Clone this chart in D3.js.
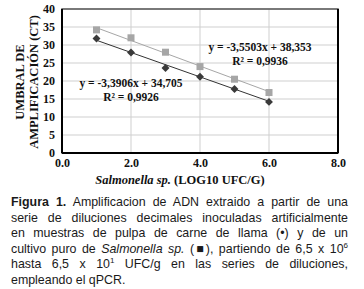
<!DOCTYPE html>
<html>
<head>
<meta charset="utf-8">
<script src="https://cdn.jsdelivr.net/npm/d3@7"></script>
<style>
  body { margin: 0; background: #fff; overflow: hidden; }
  #chart { position: absolute; left: 0; top: 0; }
  #caption {
    position: absolute; left: 11px; top: 195px; width: 337px;
    font-family: "Liberation Sans", Arial, sans-serif; font-size: 12.4px;
    color: #1a1a1a; line-height: 15.6px;
  }
  #caption div { text-align: justify; text-align-last: justify; white-space: nowrap; }
  #caption div.last { text-align-last: left; }
  #caption sup { font-size: 8px; line-height: 0; vertical-align: 5px; }
</style>
</head>
<body>
<svg id="chart" width="364" height="196"></svg>
<div id="caption"></div>
<script>
// data
const dilutions = [1, 2, 3, 4, 5, 6];
const llamaCt = [31.8, 27.9, 23.6, 21.2, 17.8, 14.2];
const cultureCt = [34.2, 32.0, 28.0, 24.0, 20.5, 16.8];
const llamaFit = { m: -3.3906, b: 34.705, label: "y = -3,3906x + 34,705", r2: "R² = 0,9926" };
const cultureFit = { m: -3.5503, b: 38.353, label: "y = -3,5503x + 38,353", r2: "R² = 0,9936" };
const xTicks = [0, 2, 4, 6, 8];
const yTicks = [0, 5, 10, 15, 20, 25, 30, 35, 40];

const margin = { top: 9, right: 26, bottom: 43, left: 62 };
const svg = d3.select("#chart");
const width = 364 - margin.left - margin.right;
const height = 196 - margin.top - margin.bottom;

const x = d3.scaleLinear().domain([0, 8]).range([0, width]);
const y = d3.scaleLinear().domain([0, 40]).range([height, 0]);

const g = svg.append("g").attr("transform", `translate(${margin.left},${margin.top})`);

// grid
g.selectAll(".hgrid").data(yTicks).enter().append("line")
  .attr("x1", 0).attr("x2", width)
  .attr("y1", d => y(d)).attr("y2", d => y(d))
  .attr("stroke", "#cfcfcf").attr("stroke-width", 1);
g.selectAll(".vgrid").data(xTicks).enter().append("line")
  .attr("x1", d => x(d)).attr("x2", d => x(d))
  .attr("y1", 0).attr("y2", height)
  .attr("stroke", "#cfcfcf").attr("stroke-width", 1);

// plot border
g.append("rect").attr("x", 0).attr("y", 0).attr("width", width).attr("height", height)
  .attr("fill", "none").attr("stroke", "#555").attr("stroke-width", 1.5);
g.append("line").attr("x1", 0).attr("x2", 0).attr("y1", 0).attr("y2", height)
  .attr("stroke", "#000").attr("stroke-width", 2);
g.append("line").attr("x1", 0).attr("x2", width).attr("y1", height).attr("y2", height)
  .attr("stroke", "#000").attr("stroke-width", 2);
g.append("line").attr("x1", width).attr("x2", width).attr("y1", 0).attr("y2", height)
  .attr("stroke", "#000").attr("stroke-width", 2);

// axes
const yAxis = g.append("g").call(d3.axisLeft(y).tickValues(yTicks).tickSize(0).tickPadding(7));
const xAxis = g.append("g").attr("transform", `translate(0,${height})`)
  .call(d3.axisBottom(x).tickValues(xTicks).tickSize(0).tickPadding(5).tickFormat(d3.format(".1f")));
[yAxis, xAxis].forEach(a => {
  a.select(".domain").remove();
  a.selectAll("text").attr("font-family", "'Liberation Serif', 'Times New Roman', serif")
    .attr("font-weight", "bold").attr("font-size", 12).attr("fill", "#111");
});

// trendlines
const line = d3.line().x(d => x(d[0])).y(d => y(d[1]));
[[cultureFit, "#a6a6a6"], [llamaFit, "#333"]].forEach(([f, c]) => {
  g.append("path")
    .datum([[dilutions[0], f.m * dilutions[0] + f.b], [dilutions[5], f.m * dilutions[5] + f.b]])
    .attr("d", line).attr("stroke", c).attr("stroke-width", 1).attr("fill", "none");
});

// markers
g.selectAll(".sq").data(dilutions).enter().append("rect")
  .attr("x", (d) => x(d) - 3.5).attr("y", (d, i) => y(cultureCt[i]) - 3.5)
  .attr("width", 7).attr("height", 7).attr("fill", "#a6a6a6");
g.selectAll(".dm").data(dilutions).enter().append("path")
  .attr("d", d3.symbol(d3.symbolDiamond2, 40))
  .attr("transform", (d, i) => `translate(${x(d)},${y(llamaCt[i])})`)
  .attr("fill", "#3a3a3a");

// equations
const eq = (f, cx, cy) => {
  [f.label, f.r2].forEach((t, i) => {
    g.append("text").attr("x", cx).attr("y", cy + i * 14).attr("text-anchor", "middle")
      .attr("font-family", "'Liberation Serif', 'Times New Roman', serif")
      .attr("font-weight", "bold").attr("font-size", 11.5).attr("fill", "#111").text(t);
  });
};
eq(cultureFit, 260 - margin.left, 51 - margin.top);
eq(llamaFit, 131 - margin.left, 87 - margin.top);

// axis titles
const serif = "'Liberation Serif', 'Times New Roman', serif";
const yt = svg.append("text").attr("transform", "translate(24,82) rotate(-90)")
  .attr("text-anchor", "middle").attr("font-family", serif).attr("font-weight", "bold")
  .attr("font-size", 12.5).attr("fill", "#111");
yt.append("tspan").attr("x", 0).attr("dy", 0).text("UMBRAL DE");
yt.append("tspan").attr("x", 0).attr("dy", 14).text("AMPLIFICACIÓN (CT)");

const xt = svg.append("text").attr("x", 180).attr("y", 184).attr("text-anchor", "middle")
  .attr("font-family", serif).attr("font-weight", "bold").attr("font-size", 12.5).attr("fill", "#111");
xt.append("tspan").attr("font-style", "italic").text("Salmonella sp.");
xt.append("tspan").text(" (LOG10 UFC/G)");

// caption
const captionLines = [
  "<b>Figura 1.</b> Amplificacion de ADN extraido a partir de una",
  "serie de diluciones decimales inoculadas artificialmente",
  "en muestras de pulpa de carne de llama (•) y de un",
  "cultivo puro de <i>Salmonella sp.</i> (■), partiendo de 6,5 x 10<sup>6</sup>",
  "hasta 6,5 x 10<sup>1</sup> UFC/g en las series de diluciones,",
  "empleando el qPCR."
];
d3.select("#caption").selectAll("div").data(captionLines).enter().append("div")
  .attr("class", (d, i) => i === captionLines.length - 1 ? "last" : null)
  .html(d => d);
</script>
</body>
</html>
